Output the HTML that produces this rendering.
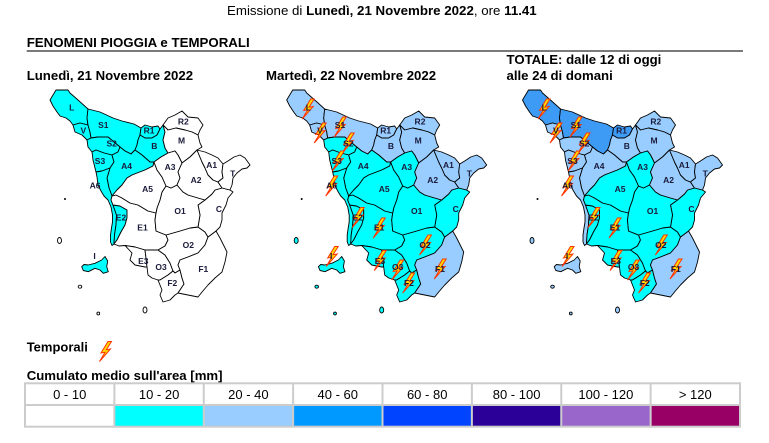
<!DOCTYPE html>
<html>
<head>
<meta charset="utf-8">
<style>
html,body{margin:0;padding:0;background:#fff;}
svg{display:block;}
</style>
</head>
<body>
<svg width="769" height="443" viewBox="0 0 769 443" xmlns="http://www.w3.org/2000/svg" xmlns:xlink="http://www.w3.org/1999/xlink" font-family="'Liberation Sans', Arial, sans-serif">
<defs>
  <polygon id="rL" points="50,100 56,90 68,90 70,93 78,100 88,109 87,118 88,125 80,123 73,125 70,121 66,118 60,116 57,112 53,106"/>
  <polygon id="rV" points="73,125 80,123 88,125 90,132 91,138 87,140 82,135 75,132"/>
  <polygon id="rS1" points="88,109 100,112 113,118 122,121 134,124 141,128 140,135 138,140 137,145 135,150 131,154 125,151 120,147 114,142 108,137 98,137 91,138 90,132 88,125 87,118"/>
  <polygon id="rR1" points="141,128 145,125 152,127 158,126 160,129 157,135 152,138 145,138 140,135"/>
  <polygon id="rB" points="160,129 163,125 165,132 163,140 165,148 168,153 161,157 154,162 150,162 142,155 135,150 137,145 138,140 140,135 145,138 152,138 157,135"/>
  <polygon id="rR2" points="163,125 168,118 175,115 182,111 188,117 198,118 203,125 200,130 198,135 192,132 185,130 176,128 168,130"/>
  <polygon id="rM" points="163,125 168,130 176,128 185,130 192,132 198,135 200,143 202,147 197,150 190,157 182,163 178,155 175,151 168,153 165,148 163,140 165,132"/>
  <polygon id="rS2" points="91,138 98,137 108,137 114,142 120,147 118,152 112,155 104,153 96,150 92,152 88,147 87,140"/>
  <polygon id="rS3" points="92,152 96,150 104,153 112,155 114,162 110,168 102,171 96,172 95,168 93,160"/>
  <polygon id="rA4" points="112,155 118,152 120,147 125,151 131,154 135,150 142,155 150,162 154,162 153,166 145,170 132,175 127,178 122,185 117,190 112,196 109,188 107,178 110,168 114,162"/>
  <polygon id="rA6" points="96,172 102,171 110,168 107,178 109,188 112,196 111,200 113,205 116.5,215 116,225 114.5,235 114,244 112,245.5 110.5,242 110.5,235 111.5,228 112.5,222 112.5,215 111,207 108,200 104,196 101,191 98,185 97,177"/>
  <polygon id="rE2" points="113,205 120,206 127,210 127,218 125,225 121,232 117,240 114,244 114.5,235 116,225 116.5,215"/>
  <polygon id="rE1" points="111,200 112,196 116,195 122,198 130,203 138,205 148,211 156,213 155,220 156,231 166,235 168,240 165,246 158,250 150,250 145,250 135,247 125,245.5 119,246 114,244 117,240 121,232 125,225 127,218 127,210 120,206 113,205"/>
  <polygon id="rE3" points="125,245.5 135,247 145,250 146,258 147,267 145,267 135,265 130,260 132,253"/>
  <polygon id="rO3" points="145,250 150,250 158,250 165,255 170,263 173,271 168,275 160,280 158,280 152,278 148,275 147,267 146,258"/>
  <polygon id="rO2" points="166,235 180,231 190,228 198,227 205,232 208,237 205,245 198,253 188,257 180,260 178,265 180,270 175,273 173,271 170,263 165,255 158,250 165,246 168,240"/>
  <polygon id="rF2" points="173,271 175,273 180,270 182,278 184,284 180,290 178,293 175,295 170,300 163,302 160,295 162,290 160,285 158,280 160,280 168,275"/>
  <polygon id="rF1" points="208,237 216,231 220,238 222,242 227,252 225,262 222,272 215,278 208,285 202,292 198,297 188,295 178,293 180,290 184,284 182,278 180,270 178,265 180,260 188,257 198,253 205,245"/>
  <polygon id="rC" points="212,194 215,190 222,188 230,190 233,192 228,198 226,205 222,213 222,220 220,227 216,231 208,237 205,232 198,227 200,215 198,205 205,200"/>
  <polygon id="rO1" points="166,186 171,188 177,185 183,192 188,195 198,198 205,200 198,205 200,215 198,227 190,228 180,231 166,235 156,231 155,220 156,213 157,208 160,200 162,192"/>
  <polygon id="rA5" points="154,162 157,170 162,177 166,186 162,192 160,200 157,208 156,213 148,211 138,205 130,203 122,198 116,195 112,196 117,190 122,185 127,178 132,175 145,170 153,166"/>
  <polygon id="rA3" points="154,162 161,157 168,153 175,151 178,155 182,163 178,172 180,178 177,185 171,188 166,186 162,177 157,170"/>
  <polygon id="rA2" points="197,150 202,162 205,168 208,175 213,180 218,182 222,188 215,190 212,194 205,200 198,198 188,195 183,192 177,185 180,178 178,172 182,163 190,157"/>
  <polygon id="rA1" points="197,150 205,152 212,155 218,158 223,164 222,172 223,178 218,182 213,180 208,175 205,168 202,162"/>
  <polygon id="rT" points="223,164 228,161 234,157 240,155 245,158 250,165 247,168 242,169 237,173 233,178 232,185 230,190 222,188 218,182 223,178 222,172"/>
  <polygon id="rI" points="81.7,266.7 84,264.5 88,265 95,263.3 101.7,260 105,256.5 106.5,259 107.7,261 106.7,266.7 108.3,271.7 103.3,273.3 100,270 95,268.3 88.3,271.7 83.3,270.5"/>
  <ellipse id="rCap" cx="59.5" cy="240.5" rx="2" ry="3"/>
  <ellipse id="rPia" cx="80" cy="286.7" rx="1.8" ry="1.5"/>
  <ellipse id="rGig" cx="145" cy="310" rx="2" ry="3"/>
  <ellipse id="rMon" cx="98.3" cy="313.5" rx="1.4" ry="1.4"/>
  <path id="bolt" d="M3,-10 L-4,1.5 L0,0.8 L-5.5,10 L5.5,-2.5 L1.3,-1.8 L6.5,-10 Z" fill="#ffdd00" stroke="#ff3300" stroke-width="1" stroke-linejoin="miter"/>
</defs>

<rect width="769" height="443" fill="#fff"/>

<!-- Header -->
<text x="227" y="15" font-size="13.3" fill="#000">Emissione di <tspan font-weight="bold">Lunedì, 21 Novembre 2022</tspan>, ore <tspan font-weight="bold">11.41</tspan></text>
<text x="26.7" y="47" font-size="13.3" font-weight="bold" fill="#000" textLength="223" lengthAdjust="spacingAndGlyphs">FENOMENI PIOGGIA e TEMPORALI</text>
<line x1="26.7" y1="51" x2="743" y2="51" stroke="#7a7a7a" stroke-width="2"/>
<text x="506.5" y="64" font-size="13.2" font-weight="bold" fill="#000">TOTALE: dalle 12 di oggi</text>
<text x="506.5" y="80" font-size="13.2" font-weight="bold" fill="#000">alle 24 di domani</text>
<text x="26.7" y="80" font-size="13.2" font-weight="bold" fill="#000">Lunedì, 21 Novembre 2022</text>
<text x="266" y="80" font-size="13.2" font-weight="bold" fill="#000">Martedì, 22 Novembre 2022</text>

<!-- MAP 1 -->
<g stroke="#000" stroke-width="0.9" stroke-linejoin="round">
  <use href="#rL" fill="#00ffff"/><use href="#rV" fill="#00ffff"/><use href="#rS1" fill="#00ffff"/>
  <use href="#rR1" fill="#00ffff"/><use href="#rB" fill="#00ffff"/><use href="#rR2" fill="#ffffff"/>
  <use href="#rM" fill="#ffffff"/><use href="#rS2" fill="#00ffff"/><use href="#rS3" fill="#00ffff"/>
  <use href="#rA4" fill="#00ffff"/><use href="#rA6" fill="#00ffff"/><use href="#rE2" fill="#00ffff"/>
  <use href="#rE1" fill="#ffffff"/><use href="#rE3" fill="#ffffff"/><use href="#rO3" fill="#ffffff"/>
  <use href="#rO2" fill="#ffffff"/><use href="#rF2" fill="#ffffff"/><use href="#rF1" fill="#ffffff"/>
  <use href="#rC" fill="#ffffff"/><use href="#rO1" fill="#ffffff"/><use href="#rA5" fill="#ffffff"/>
  <use href="#rA3" fill="#ffffff"/><use href="#rA2" fill="#ffffff"/><use href="#rA1" fill="#ffffff"/>
  <use href="#rT" fill="#ffffff"/><use href="#rI" fill="#00ffff"/>
  <use href="#rCap" fill="#ffffff"/><use href="#rPia" fill="#ffffff"/><use href="#rGig" fill="#ffffff"/><use href="#rMon" fill="#ffffff"/>
</g>
<circle cx="65" cy="199" r="1" fill="#000"/>
<g font-size="8.5" font-weight="bold" fill="#1a1a3a" text-anchor="middle">
  <text x="71.7" y="110.7">L</text><text x="83.3" y="133.5">V</text><text x="103.3" y="128">S1</text>
  <text x="111.7" y="146.3">S2</text><text x="100" y="164">S3</text><text x="149" y="133.5">R1</text>
  <text x="154.3" y="149">B</text><text x="183.3" y="124.7">R2</text><text x="181.5" y="143.5">M</text>
  <text x="126.5" y="169">A4</text><text x="170" y="170">A3</text><text x="211.7" y="168">A1</text>
  <text x="196" y="183">A2</text><text x="232.7" y="176.3">T</text><text x="147.5" y="192">A5</text>
  <text x="95" y="188.5">A6</text><text x="180" y="214">O1</text><text x="219" y="212">C</text>
  <text x="121" y="220.7">E2</text><text x="142.5" y="230.5">E1</text><text x="188.3" y="248">O2</text>
  <text x="94.5" y="259">I</text><text x="143.3" y="264">E3</text><text x="161" y="270">O3</text>
  <text x="203.3" y="272">F1</text><text x="172.3" y="286">F2</text>
</g>

<!-- MAP 2 -->
<g transform="translate(236.7,0)">
  <g stroke="#000" stroke-width="0.9" stroke-linejoin="round">
    <use href="#rL" fill="#99ccff"/><use href="#rV" fill="#99ccff"/><use href="#rS1" fill="#99ccff"/>
    <use href="#rR1" fill="#99ccff"/><use href="#rB" fill="#99ccff"/><use href="#rR2" fill="#99ccff"/>
    <use href="#rM" fill="#99ccff"/><use href="#rS2" fill="#00ffff"/><use href="#rS3" fill="#00ffff"/>
    <use href="#rA4" fill="#00ffff"/><use href="#rA6" fill="#00ffff"/><use href="#rE2" fill="#00ffff"/>
    <use href="#rE1" fill="#00ffff"/><use href="#rE3" fill="#00ffff"/><use href="#rO3" fill="#00ffff"/>
    <use href="#rO2" fill="#00ffff"/><use href="#rF2" fill="#00ffff"/><use href="#rF1" fill="#99ccff"/>
    <use href="#rC" fill="#00ffff"/><use href="#rO1" fill="#00ffff"/><use href="#rA5" fill="#00ffff"/>
    <use href="#rA3" fill="#00ffff"/><use href="#rA2" fill="#99ccff"/><use href="#rA1" fill="#99ccff"/>
    <use href="#rT" fill="#99ccff"/><use href="#rI" fill="#00ffff"/>
    <use href="#rCap" fill="#00ffff"/><use href="#rPia" fill="#00ffff"/><use href="#rGig" fill="#00ffff"/><use href="#rMon" fill="#00ffff"/>
  </g>
  <circle cx="65" cy="199" r="1" fill="#000"/>
  <use href="#bolt" x="71" y="109"/><use href="#bolt" x="83" y="133"/><use href="#bolt" x="103" y="127"/>
  <use href="#bolt" x="111" y="143"/><use href="#bolt" x="101" y="161"/><use href="#bolt" x="94.5" y="186"/>
  <use href="#bolt" x="121" y="217.5"/><use href="#bolt" x="142" y="228"/><use href="#bolt" x="95" y="256.5"/>
  <use href="#bolt" x="143" y="260.5"/><use href="#bolt" x="160.5" y="270"/><use href="#bolt" x="171.5" y="283"/>
  <use href="#bolt" x="188.3" y="245"/><use href="#bolt" x="203" y="269"/>
  <g font-size="8.5" font-weight="bold" fill="#1a1a3a" text-anchor="middle">
    <text x="71.7" y="110.7">L</text><text x="83.3" y="133.5">V</text><text x="103.3" y="128">S1</text>
    <text x="111.7" y="146.3">S2</text><text x="100" y="164">S3</text><text x="149" y="133.5">R1</text>
    <text x="154.3" y="149">B</text><text x="183.3" y="124.7">R2</text><text x="181.5" y="143.5">M</text>
    <text x="126.5" y="169">A4</text><text x="170" y="170">A3</text><text x="211.7" y="168">A1</text>
    <text x="196" y="183">A2</text><text x="232.7" y="176.3">T</text><text x="147.5" y="192">A5</text>
    <text x="95" y="188.5">A6</text><text x="180" y="214">O1</text><text x="219" y="212">C</text>
    <text x="121" y="220.7">E2</text><text x="142.5" y="230.5">E1</text><text x="188.3" y="248">O2</text>
    <text x="94.5" y="259">I</text><text x="143.3" y="264">E3</text><text x="161" y="270">O3</text>
    <text x="203.3" y="272">F1</text><text x="172.3" y="286">F2</text>
  </g>
</g>

<!-- MAP 3 -->
<g transform="translate(472.5,0)">
  <g stroke="#000" stroke-width="0.9" stroke-linejoin="round">
    <use href="#rL" fill="#3d9bf5"/><use href="#rV" fill="#99ccff"/><use href="#rS1" fill="#3d9bf5"/>
    <use href="#rR1" fill="#3d9bf5"/><use href="#rB" fill="#99ccff"/><use href="#rR2" fill="#99ccff"/>
    <use href="#rM" fill="#99ccff"/><use href="#rS2" fill="#99ccff"/><use href="#rS3" fill="#99ccff"/>
    <use href="#rA4" fill="#99ccff"/><use href="#rA6" fill="#99ccff"/><use href="#rE2" fill="#00ffff"/>
    <use href="#rE1" fill="#00ffff"/><use href="#rE3" fill="#00ffff"/><use href="#rO3" fill="#00ffff"/>
    <use href="#rO2" fill="#00ffff"/><use href="#rF2" fill="#00ffff"/><use href="#rF1" fill="#99ccff"/>
    <use href="#rC" fill="#00ffff"/><use href="#rO1" fill="#00ffff"/><use href="#rA5" fill="#00ffff"/>
    <use href="#rA3" fill="#00ffff"/><use href="#rA2" fill="#99ccff"/><use href="#rA1" fill="#99ccff"/>
    <use href="#rT" fill="#99ccff"/><use href="#rI" fill="#99ccff"/>
    <use href="#rCap" fill="#99ccff"/><use href="#rPia" fill="#99ccff"/><use href="#rGig" fill="#99ccff"/><use href="#rMon" fill="#99ccff"/>
  </g>
  <circle cx="65" cy="199" r="1" fill="#000"/>
  <use href="#bolt" x="71" y="109"/><use href="#bolt" x="83" y="133"/><use href="#bolt" x="103" y="127"/>
  <use href="#bolt" x="111" y="143"/><use href="#bolt" x="101" y="161"/><use href="#bolt" x="94.5" y="186"/>
  <use href="#bolt" x="121" y="217.5"/><use href="#bolt" x="142" y="228"/><use href="#bolt" x="95" y="256.5"/>
  <use href="#bolt" x="143" y="260.5"/><use href="#bolt" x="160.5" y="270"/><use href="#bolt" x="171.5" y="283"/>
  <use href="#bolt" x="188.3" y="245"/><use href="#bolt" x="203" y="269"/>
  <g font-size="8.5" font-weight="bold" fill="#1a1a3a" text-anchor="middle">
    <text x="71.7" y="110.7">L</text><text x="83.3" y="133.5">V</text><text x="103.3" y="128">S1</text>
    <text x="111.7" y="146.3">S2</text><text x="100" y="164">S3</text><text x="149" y="133.5">R1</text>
    <text x="154.3" y="149">B</text><text x="183.3" y="124.7">R2</text><text x="181.5" y="143.5">M</text>
    <text x="126.5" y="169">A4</text><text x="170" y="170">A3</text><text x="211.7" y="168">A1</text>
    <text x="196" y="183">A2</text><text x="232.7" y="176.3">T</text><text x="147.5" y="192">A5</text>
    <text x="95" y="188.5">A6</text><text x="180" y="214">O1</text><text x="219" y="212">C</text>
    <text x="121" y="220.7">E2</text><text x="142.5" y="230.5">E1</text><text x="188.3" y="248">O2</text>
    <text x="94.5" y="259">I</text><text x="143.3" y="264">E3</text><text x="161" y="270">O3</text>
    <text x="203.3" y="272">F1</text><text x="172.3" y="286">F2</text>
  </g>
</g>

<!-- Legend -->
<text x="26.7" y="351.7" font-size="13" font-weight="bold" fill="#000">Temporali</text>
<use href="#bolt" x="105" y="351.5"/>
<text x="26.7" y="380" font-size="13.2" font-weight="bold" fill="#000">Cumulato medio sull'area [mm]</text>

<g>
  <rect x="25" y="405" width="89.375" height="21.7" fill="#ffffff"/>
  <rect x="114.375" y="405" width="89.375" height="21.7" fill="#00ffff"/>
  <rect x="203.75" y="405" width="89.375" height="21.7" fill="#99ccff"/>
  <rect x="293.125" y="405" width="89.375" height="21.7" fill="#0099ff"/>
  <rect x="382.5" y="405" width="89.375" height="21.7" fill="#0044ff"/>
  <rect x="471.875" y="405" width="89.375" height="21.7" fill="#2b0099"/>
  <rect x="561.25" y="405" width="89.375" height="21.7" fill="#9966cc"/>
  <rect x="650.625" y="405" width="89.375" height="21.7" fill="#990066"/>
</g>
<g stroke="#cccccc" stroke-width="2" fill="none">
  <rect x="25" y="383.3" width="715" height="43.4"/>
  <line x1="25" y1="405" x2="740" y2="405"/>
  <line x1="114.375" y1="383.3" x2="114.375" y2="426.7"/>
  <line x1="203.75" y1="383.3" x2="203.75" y2="426.7"/>
  <line x1="293.125" y1="383.3" x2="293.125" y2="426.7"/>
  <line x1="382.5" y1="383.3" x2="382.5" y2="426.7"/>
  <line x1="471.875" y1="383.3" x2="471.875" y2="426.7"/>
  <line x1="561.25" y1="383.3" x2="561.25" y2="426.7"/>
  <line x1="650.625" y1="383.3" x2="650.625" y2="426.7"/>
</g>
<g font-size="13" fill="#000" text-anchor="middle">
  <text x="69.7" y="398.8">0 - 10</text>
  <text x="159.1" y="398.8">10 - 20</text>
  <text x="248.4" y="398.8">20 - 40</text>
  <text x="337.8" y="398.8">40 - 60</text>
  <text x="427.2" y="398.8">60 - 80</text>
  <text x="516.6" y="398.8">80 - 100</text>
  <text x="605.9" y="398.8">100 - 120</text>
  <text x="695.3" y="398.8">&gt; 120</text>
</g>
</svg>
</body>
</html>
